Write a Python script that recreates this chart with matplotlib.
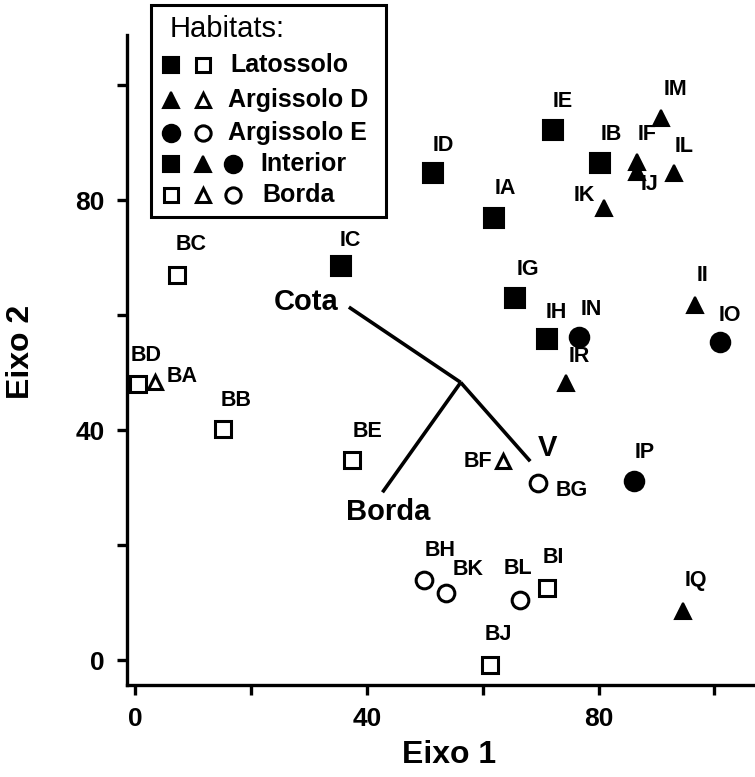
import matplotlib
matplotlib.use("Agg")
import matplotlib.pyplot as plt
from matplotlib.patches import Rectangle

plt.rcParams['font.family'] = ['Liberation Sans', 'DejaVu Sans']

# ---- data ----
names = ["IA", "IB", "IC", "ID", "IE", "IF", "IG", "IH", "II", "IJ", "IK", "IL",
         "IM", "IN", "IO", "IP", "IQ", "IR",
         "BA", "BB", "BC", "BD", "BE", "BF", "BG", "BH", "BI", "BJ", "BK", "BL"]
eixo1 = [61.9, 80.3, 35.6, 51.4, 72.1, 86.7, 65.6, 71.1, 96.7, 86.7, 81.0, 93.1,
         90.8, 76.6, 100.9, 86.2, 94.5, 74.4,
         3.5, 15.2, 7.3, 0.5, 37.4, 63.5, 69.6, 49.8, 71.1, 61.2, 53.6, 66.4]
eixo2 = [76.9, 86.4, 68.5, 84.7, 92.2, 86.6, 63.0, 55.8, 61.7, 84.9, 78.6, 84.7,
         94.3, 56.2, 55.3, 31.1, 8.5, 48.2,
         48.3, 40.2, 67.0, 48.0, 34.8, 34.6, 30.8, 13.9, 12.5, -0.9, 11.7, 10.4]
solo = ["L", "L", "L", "L", "L", "D", "L", "L", "D", "D", "D", "D",
        "D", "E", "E", "E", "D", "D",
        "D", "L", "L", "L", "L", "D", "E", "E", "L", "L", "E", "E"]
habitat = ["Interior"] * 18 + ["Borda"] * 12

# biplot vectors
vec_names = ["Cota", "V", "Borda"]
vec_origin = (56.2, 48.3)
vec_end_x = [36.9, 68.2, 42.7]
vec_end_y = [61.4, 34.6, 29.2]

# label offsets in pixels (dx, dy) relative to marker
label_off = {
    "IA": (12, 29), "IB": (11, 29), "IC": (9, 26), "ID": (10, 28), "IE": (10, 28),
    "IF": (10, 28), "IG": (13, 28), "IH": (9, 27), "II": (7, 30), "IJ": (12, -13),
    "IK": (-20, 13), "IL": (10, 27), "IM": (14, 28), "IN": (12, 27), "IO": (10, 27),
    "IP": (10, 29), "IQ": (13, 31), "IR": (13, 27),
    "BA": (27, 6), "BB": (13, 29), "BC": (14, 30), "BD": (8, 29), "BE": (16, 29),
    "BF": (-25, 0), "BG": (33, -7), "BH": (17, 30), "BI": (6, 31), "BJ": (9, 31),
    "BK": (22, 23), "BL": (-2, 32),
}

marker_of = {"L": "s", "D": "^", "E": "o"}
msize = {"s": 14, "^": 12, "o": 14}

fig = plt.figure(figsize=(7.55, 7.77), dpi=100)
ax = fig.add_axes([127 / 755, 92 / 777, 628 / 755, 650 / 777])
ax.set_xlim(-1.4, 107.0)
ax.set_ylim(-4.3, 108.7)

for n, x, y, s, h in zip(names, eixo1, eixo2, solo, habitat):
    m = marker_of[s]
    if h == "Interior":
        ax.plot(x, y, marker=m, ms=msize[m], mfc="black", mec="black", mew=1.5, ls="none",
                clip_on=False)
    else:
        ax.plot(x, y, marker=m, ms=msize[m] - 2, mfc="white", mec="black", mew=2.2, ls="none",
                clip_on=False)
    dx, dy = label_off[n]
    ax.annotate(n, (x, y), xytext=(dx, dy), textcoords="offset pixels",
                ha="center", va="center", fontsize=15.5, fontweight="bold")

for vn, ex, ey in zip(vec_names, vec_end_x, vec_end_y):
    ax.plot([vec_origin[0], ex], [vec_origin[1], ey], color="black", lw=2.6,
            solid_capstyle="butt")

ax.annotate("Cota", (vec_end_x[0], vec_end_y[0]), xytext=(-43, 5), textcoords="offset pixels",
            ha="center", va="center", fontsize=21, fontweight="bold")
ax.annotate("V", (vec_end_x[1], vec_end_y[1]), xytext=(17, 13), textcoords="offset pixels",
            ha="center", va="center", fontsize=21, fontweight="bold")
ax.annotate("Borda", (vec_end_x[2], vec_end_y[2]), xytext=(6, -20), textcoords="offset pixels",
            ha="center", va="center", fontsize=21, fontweight="bold")

# axes styling
for sp in ["top", "right"]:
    ax.spines[sp].set_visible(False)
for sp in ["left", "bottom"]:
    ax.spines[sp].set_linewidth(2.4)
ax.set_xticks([0, 20, 40, 60, 80, 100])
ax.set_xticklabels(["0", "", "40", "", "80", ""])
ax.set_yticks([0, 20, 40, 60, 80, 100])
ax.set_yticklabels(["0", "", "40", "", "80", ""])
ax.tick_params(direction="out", length=7, width=2.4, labelsize=19, pad=9)
for t in ax.get_xticklabels() + ax.get_yticklabels():
    t.set_fontweight("bold")
ax.set_xlabel("")
ax.set_ylabel("")
fig.text(449 / 755, 1 - 755 / 777, "Eixo 1", fontsize=23, fontweight="bold",
         ha="center", va="center")
fig.text(21 / 755, 1 - 352 / 777, "Eixo 2", fontsize=23, fontweight="bold",
         ha="center", va="center", rotation=90)

# ---- manual legend (figure pixel coords) ----
lg = fig.add_axes([0, 0, 1, 1], facecolor="none")
lg.set_xlim(0, 755)
lg.set_ylim(777, 0)
lg.axis("off")
lg.add_patch(Rectangle((151, 5), 235, 212, fill=False, ec="black", lw=2.2))
lg.text(170, 29, "Habitats:", fontsize=21, va="center", ha="left")
rows = [
    (65, [("s", True), ("s", False)], "Latossolo", 230),
    (100, [("^", True), ("^", False)], "Argissolo D", 228),
    (133, [("o", True), ("o", False)], "Argissolo E", 228),
    (164, [("s", True), ("^", True), ("o", True)], "Interior", 260),
    (195, [("s", False), ("^", False), ("o", False)], "Borda", 262),
]
xs_cols = [171, 203, 233]
lsize = {"s": 12, "^": 11, "o": 12.5}
for yy, marks, label, tx in rows:
    for (m, filled), xx in zip(marks, xs_cols):
        if filled:
            lg.plot(xx, yy, marker=m, ms=lsize[m], mfc="black", mec="black", mew=1.5)
        else:
            lg.plot(xx, yy, marker=m, ms=lsize[m] - 1.5, mfc="white", mec="black", mew=2.2)
    lg.text(tx, yy, label, fontsize=18, fontweight="bold", va="center", ha="left")

fig.savefig("out.png", dpi=100)
